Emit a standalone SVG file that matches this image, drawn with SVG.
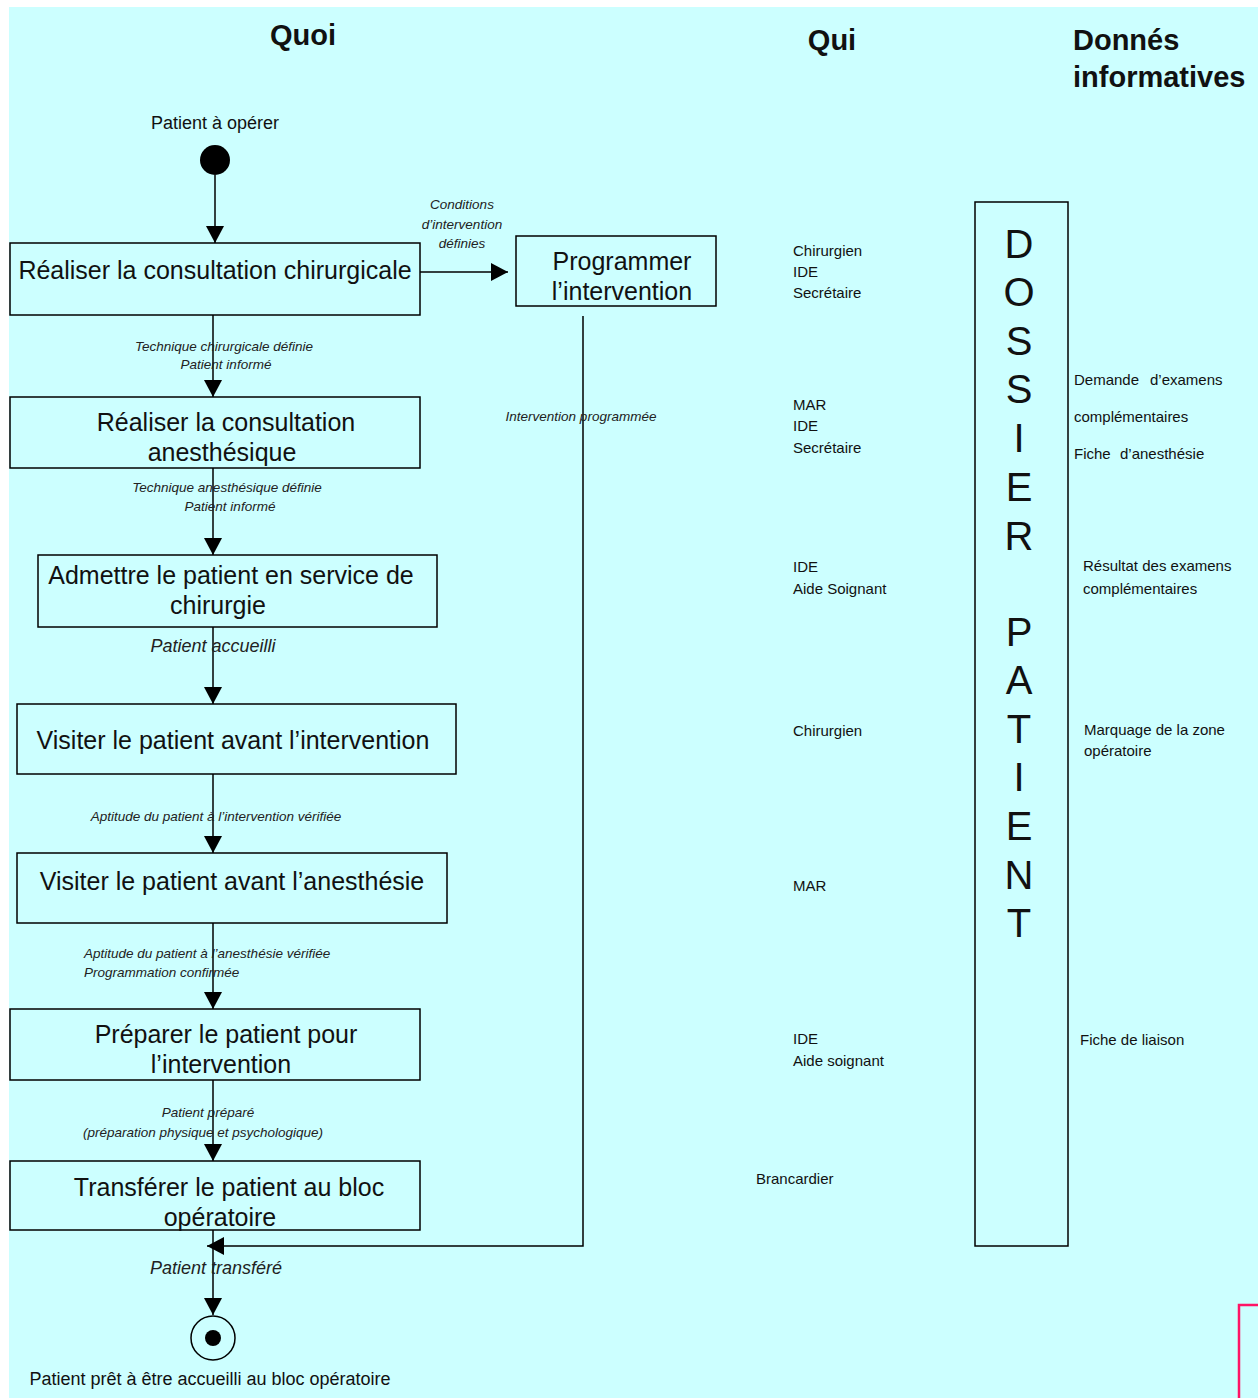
<svg xmlns="http://www.w3.org/2000/svg" width="1258" height="1398" viewBox="0 0 1258 1398">
<style>
.bg{fill:#ccffff}
.box{fill:none;stroke:#000;stroke-width:1.5}
.t{font-family:"Liberation Sans",Arial,sans-serif;fill:#111}
.hd{font-size:29px;font-weight:bold}
.bx{font-size:25px;text-anchor:middle}
.lb{font-size:13.5px;font-style:italic;fill:#222}
.lbc{text-anchor:middle}
.big{font-size:18px}
.qui{font-size:15px}
.dos{font-size:40px;text-anchor:middle}
.c{fill:none;stroke:#000;stroke-width:1.5}
</style>
<defs>
<marker id="arr" markerUnits="userSpaceOnUse" markerWidth="18" markerHeight="18" refX="17" refY="9" orient="auto">
<path d="M0,0 L17,9 L0,18 z" fill="#000"/>
</marker>
</defs>
<rect x="0" y="0" width="1258" height="1398" fill="#fff"/>
<rect class="bg" x="9" y="7" width="1249" height="1391"/>
<path d="M1239,1398 L1239,1305 L1258,1305" fill="none" stroke="#ff1466" stroke-width="2.5"/>

<g id="headers">
<text class="t hd" x="303" y="45" text-anchor="middle">Quoi</text>
<text class="t hd" x="832" y="50" text-anchor="middle">Qui</text>
<text class="t hd" x="1073" y="50">Donnés</text>
<text class="t hd" x="1073" y="87">informatives</text>
</g>

<g id="connectors">
<path class="c" d="M215,175 L215,243" marker-end="url(#arr)"/>
<path class="c" d="M213,315 L213,397" marker-end="url(#arr)"/>
<path class="c" d="M213,468 L213,555" marker-end="url(#arr)"/>
<path class="c" d="M213,627 L213,704" marker-end="url(#arr)"/>
<path class="c" d="M213,774 L213,853" marker-end="url(#arr)"/>
<path class="c" d="M213,923 L213,1009" marker-end="url(#arr)"/>
<path class="c" d="M213,1080 L213,1161" marker-end="url(#arr)"/>
<path class="c" d="M213,1230 L213,1315" marker-end="url(#arr)"/>
<path class="c" d="M420,272 L508,272" marker-end="url(#arr)"/>
<path class="c" d="M583,316 L583,1246 L207,1246" marker-end="url(#arr)"/>
</g>

<g id="connector-labels">
<text class="t lb lbc" x="462" y="209">Conditions</text>
<text class="t lb lbc" x="462" y="229">d’intervention</text>
<text class="t lb lbc" x="462" y="248">définies</text>
<text class="t lb lbc" x="224" y="351">Technique chirurgicale définie</text>
<text class="t lb lbc" x="226" y="369">Patient informé</text>
<text class="t lb lbc" x="581" y="421">Intervention programmée</text>
<text class="t lb lbc" x="227" y="492">Technique anesthésique définie</text>
<text class="t lb lbc" x="230" y="511">Patient informé</text>
<text class="t lb lbc big" x="213" y="652">Patient accueilli</text>
<text class="t lb lbc" x="216" y="821">Aptitude du patient à l’intervention vérifiée</text>
<text class="t lb" x="84" y="958">Aptitude du patient à l’anesthésie vérifiée</text>
<text class="t lb" x="84" y="977">Programmation confirmée</text>
<text class="t lb lbc" x="208" y="1117">Patient préparé</text>
<text class="t lb lbc" x="203" y="1137">(préparation physique et psychologique)</text>
<text class="t lb lbc big" x="216" y="1274">Patient transféré</text>
</g>

<g id="start">
<text class="t big" x="215" y="129" text-anchor="middle">Patient à opérer</text>
<circle cx="215" cy="160" r="15" fill="#000"/>
</g>

<g id="n1">
<rect class="box" x="10" y="243" width="410" height="72"/>
<text class="t bx" x="215" y="279">Réaliser la consultation chirurgicale</text>
</g>
<g id="n-prog">
<rect class="box" x="516" y="236" width="200" height="70"/>
<text class="t bx" x="622" y="270">Programmer</text>
<text class="t bx" x="622" y="300">l’intervention</text>
</g>
<g id="n2">
<rect class="box" x="10" y="397" width="410" height="71"/>
<text class="t bx" x="226" y="431">Réaliser la consultation</text>
<text class="t bx" x="222" y="461">anesthésique</text>
</g>
<g id="n3">
<rect class="box" x="38" y="555" width="399" height="72"/>
<text class="t bx" x="231" y="584">Admettre le patient en service de</text>
<text class="t bx" x="218" y="614">chirurgie</text>
</g>
<g id="n4">
<rect class="box" x="17" y="704" width="439" height="70"/>
<text class="t bx" x="233" y="749">Visiter le patient avant l’intervention</text>
</g>
<g id="n5">
<rect class="box" x="17" y="853" width="430" height="70"/>
<text class="t bx" x="232" y="890">Visiter le patient avant l’anesthésie</text>
</g>
<g id="n6">
<rect class="box" x="10" y="1009" width="410" height="71"/>
<text class="t bx" x="226" y="1043">Préparer le patient pour</text>
<text class="t bx" x="221" y="1073">l’intervention</text>
</g>
<g id="n7">
<rect class="box" x="10" y="1161" width="410" height="69"/>
<text class="t bx" x="229" y="1196">Transférer le patient au bloc</text>
<text class="t bx" x="220" y="1226">opératoire</text>
</g>

<g id="end">
<circle cx="213" cy="1338" r="22" fill="none" stroke="#000" stroke-width="1.5"/>
<circle cx="213" cy="1338" r="8" fill="#000"/>
<text class="t big" x="210" y="1385" text-anchor="middle">Patient prêt à être accueilli au bloc opératoire</text>
</g>

<g id="qui">
<text class="t qui" x="793" y="256">Chirurgien</text>
<text class="t qui" x="793" y="277">IDE</text>
<text class="t qui" x="793" y="298">Secrétaire</text>
<text class="t qui" x="793" y="410">MAR</text>
<text class="t qui" x="793" y="431">IDE</text>
<text class="t qui" x="793" y="453">Secrétaire</text>
<text class="t qui" x="793" y="572">IDE</text>
<text class="t qui" x="793" y="594">Aide Soignant</text>
<text class="t qui" x="793" y="736">Chirurgien</text>
<text class="t qui" x="793" y="891">MAR</text>
<text class="t qui" x="793" y="1044">IDE</text>
<text class="t qui" x="793" y="1066">Aide soignant</text>
<text class="t qui" x="756" y="1184">Brancardier</text>
</g>

<g id="dossier">
<rect class="box" x="975" y="202" width="93" height="1044"/>
<text class="t dos" x="1019" y="258">D</text>
<text class="t dos" x="1019" y="306">O</text>
<text class="t dos" x="1019" y="355">S</text>
<text class="t dos" x="1019" y="403">S</text>
<text class="t dos" x="1019" y="452">I</text>
<text class="t dos" x="1019" y="501">E</text>
<text class="t dos" x="1019" y="550">R</text>
<text class="t dos" x="1019" y="646">P</text>
<text class="t dos" x="1019" y="694">A</text>
<text class="t dos" x="1019" y="743">T</text>
<text class="t dos" x="1019" y="791">I</text>
<text class="t dos" x="1019" y="840">E</text>
<text class="t dos" x="1019" y="889">N</text>
<text class="t dos" x="1019" y="937">T</text>
</g>

<g id="donnees">
<text class="t qui" x="1074" y="385">Demande<tspan x="1150">d’examens</tspan></text>
<text class="t qui" x="1074" y="422">complémentaires</text>
<text class="t qui" x="1074" y="459">Fiche<tspan x="1120">d’anesthésie</tspan></text>
<text class="t qui" x="1083" y="571">Résultat des examens</text>
<text class="t qui" x="1083" y="594">complémentaires</text>
<text class="t qui" x="1084" y="735">Marquage de la zone</text>
<text class="t qui" x="1084" y="756">opératoire</text>
<text class="t qui" x="1080" y="1045">Fiche de liaison</text>
</g>
</svg>
